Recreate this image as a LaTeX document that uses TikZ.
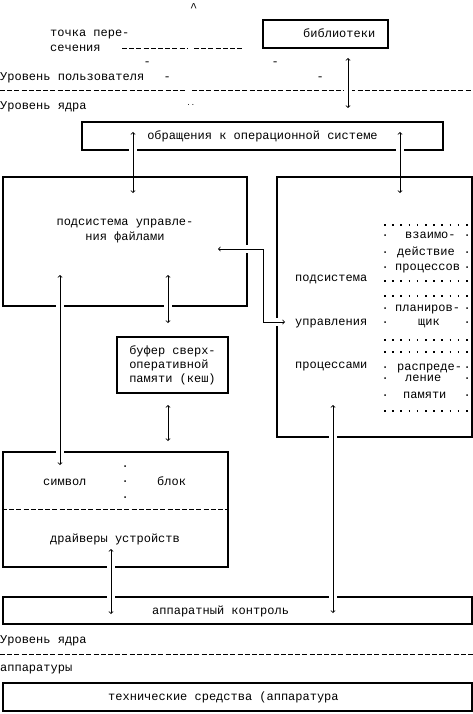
\documentclass[tikz,border=0pt]{standalone}
\usepackage{fontspec}
\setmainfont{Liberation Mono}
\usetikzlibrary{arrows,shapes,calc}

\tikzset{
	box/.style={draw, line width=2pt, inner sep=0pt},
	txt/.style={anchor=west, inner sep=0pt, text height=6.4pt, text depth=0pt},
	sep/.style={line width=0.9pt, dash pattern=on 5pt off 2.2pt},
	dotrow/.style={line width=1.6pt, dash pattern=on 1.6pt off 6.6pt},
	dbl/.style={<->, line width=0.8pt, preaction={draw=white, line width=8pt, -}},
}

\begin{document}
\begin{tikzpicture}[x=1pt, y=-1pt, font=\fontsize{12}{14}\selectfont]
				\useasboundingbox (0,0) rectangle (473,714);
				
				% user level
				\node[txt] (hat) at (190,8) {\textasciicircum};
				\node[txt] (cross1) at (50,33) {точка пере-};
				\node[txt] (cross2) at (50,48) {сечения};
				\draw[sep] (122,48) -- (188,48);
				\draw[sep] (194,48) -- (243,48);
				\node[txt] (m1) at (143.4,62) {-};
				\node[txt] (m2) at (271.4,62) {-};
				\node[txt] (m3) at (163.4,77) {-};
				\node[txt] (m4) at (316.4,77) {-};
				\node[txt] (userlvl) at (0,77) {Уровень пользователя};
				\draw[sep] (0,90) -- (185,90);
				\draw[sep] (192,90) -- (473,90);
				\node[txt] (kernlvl) at (0,106) {Уровень ядра};
				\node[txt, font=\fontsize{7}{8}\selectfont] (dd) at (186.5,102.8) {..};
				
				\node[box, minimum width=125, minimum height=28] (lib) at (325.5,34) {};
				\node[txt] (libtxt) at (303,34) {библиотеки};
				
				\node[box, minimum width=361, minimum height=28] (sys) at (262.5,136) {обращения к операционной системе};
				
				\coordinate (libA) at (348,58);
				\coordinate (libB) at (348,108);
				\coordinate (sysA) at (133,132);
				\coordinate (sysB) at (400,132);
				\coordinate (fileA) at (133,193);
				\coordinate (procA) at (400,193);
				\draw[dbl] (libA) -- (libB);
				\draw[dbl] (sysA) -- (fileA);
				\draw[dbl] (sysB) -- (procA);
				
				% kernel
				\node[box, minimum width=244, minimum height=129] (files) at (125,241.5) {};
				\node[txt, anchor=center] (filestxt1) at (125,222) {подсистема управле-};
				\node[txt, anchor=center] (filestxt2) at (125,237) {ния файлами};
				
				\node[box, minimum width=195, minimum height=260] (proc) at (374.5,307) {};
				\node[txt] (proctxt1) at (295,278) {подсистема};
				\node[txt] (proctxt2) at (295,322) {управления};
				\node[txt] (proctxt3) at (295,365) {процессами};
				\foreach \y in {225,281,296,340,352,411}
					\draw[dotrow] (384,\y) -- (468,\y);
				\foreach \y/\w/\x in {235/взаимо-/405, 252/действие/397, 267/процессов/395, 308/планиров-/395, 322/щик/418, 367/распреде-/397, 378/ление/405, 395/памяти/403}{
					\node[txt] (dl\y) at (381.4,\y-1.5) {.};
					\node[txt] (w\y) at (\x,\y) {\w};
					\node[txt] (dr\y) at (463.4,\y-1.5) {.};
				}
				
				\node[box, minimum width=111, minimum height=56, align=left] (cache) at (172.5,365) {буфер сверх-\\оперативной\\памяти (кеш)};
				
				\node[box, minimum width=225, minimum height=115] (drv) at (115.5,509.5) {};
				\node[txt] (dot1) at (121.4,464.7) {.};
				\node[txt] (sym) at (43,482) {символ};
				\node[txt] (dot2) at (121.4,479.7) {.};
				\node[txt] (blk) at (157,482) {блок};
				\node[txt] (dot3) at (121.4,495.7) {.};
				\draw[sep] (drv.west) -- (drv.east);
				\node[txt] (drvtxt) at (50,539) {драйверы устройств};
				
				\node[box, minimum width=469, minimum height=27] (hwctl) at (237.5,610.5) {};
				\node[txt] (hwctltxt) at (152,611) {аппаратный контроль};
				
				% hardware
				\node[txt] (kernlvl2) at (0,640) {Уровень ядра};
				\draw[sep] (0,654) -- (473,654);
				\node[txt] (hwlvl) at (0,668) {аппаратуры};
				\node[box, minimum width=469, minimum height=28] (hw) at (237.5,697) {};
				\node[txt] (hwtxt) at (108,697) {технические средства (аппаратура};
				
				\coordinate (fileB) at (218,249);
				\coordinate (bend) at (263,322);
				\coordinate (procB) at (285,322);
				\coordinate (fileC) at (60,275);
				\coordinate (drvA) at (60,465);
				\coordinate (fileD) at (168,275);
				\coordinate (cacheA) at (168,323);
				\coordinate (cacheB) at (168,405);
				\coordinate (drvB) at (168,441);
				\coordinate (procC) at (333,405);
				\coordinate (hwctlA) at (333,613);
				\coordinate (drvC) at (111,549);
				\coordinate (hwctlB) at (111,614);
				
				\draw[dbl] (fileB) -| (bend) -- (procB);
				\draw[dbl] (fileC) -- (drvA);
				\draw[dbl] (fileD) -- (cacheA);
				\draw[dbl] (cacheB) -- (drvB);
				\draw[dbl] (procC) -- (hwctlA);
				\draw[dbl] (drvC) -- (hwctlB);
			\end{tikzpicture}
\end{document}
